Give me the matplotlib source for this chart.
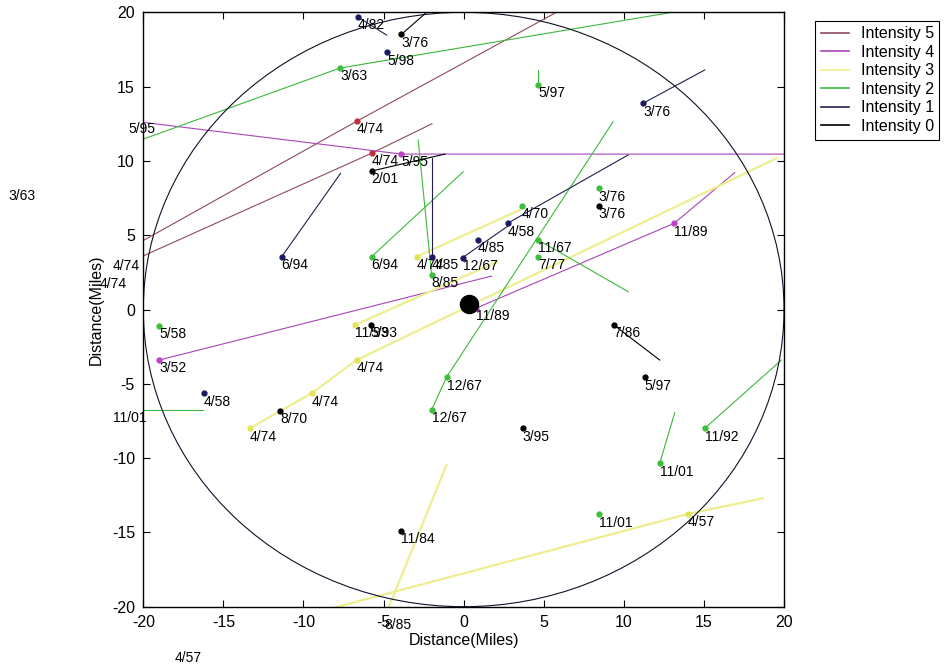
import matplotlib
matplotlib.use('Agg')
import matplotlib.pyplot as plt
from matplotlib.lines import Line2D
from matplotlib.patches import Circle

plt.rcParams['font.family'] = ['Liberation Sans', 'DejaVu Sans']
plt.rcParams['axes.unicode_minus'] = False

# tornado tracks near the city: date, intensity and the track points (miles)
dates = ['4/74', '4/74', '5/95', '3/52', '11/89',
         '4/57', '8/85', '4/74', '11/93', '4/74',
         '3/63', '5/97', '6/94', '8/85', '4/70', '12/67', '11/67', '7/77',
         '3/76', '5/58', '11/01', '11/01', '11/92', '11/01',
         '4/82', '5/98', '3/76', '6/94', '4/85', '12/67', '4/58', '4/85', '4/58',
         '3/76', '2/01', '5/93', '8/70', '7/86', '5/97', '3/95', '11/84', '3/76']
intensity = [5, 5, 4, 4, 4,
             3, 3, 3, 3, 3,
             2, 2, 2, 2, 2, 2, 2, 2,
             2, 2, 2, 2, 2, 2,
             1, 1, 1, 1, 1, 1, 1, 1, 1,
             0, 0, 0, 0, 0, 0, 0, 0, 0]
track_x = [[-21.9, -6.66, 8.0], [-22.7, -5.72, -1.98], [-20.95, -3.88, 21.0],
           [-19.0, 1.74], [0.80, 13.14, 16.92],
           [-18.02, 14.01, 18.69], [-4.92, -1.07], [-13.36, -9.49, -6.68, 19.53],
           [-6.79, 2.07], [-2.94, 3.5],
           [-28.44, -7.72, 15.0], [4.65, 4.65], [-5.75, -0.03], [-2.0, -2.84],
           [3.65], [-2.0, -1.07, 9.33], [4.65, 10.27], [4.65],
           [8.44], [-19.0], [-21.89, -16.26], [12.24, 13.18], [15.05, 19.84], [8.46],
           [-6.62, -4.81], [-4.77], [11.2, 15.05], [-11.36, -7.68], [-1.97, -1.97],
           [-0.07, 2.74], [2.74, 10.27], [0.87], [-16.21],
           [-3.88, -2.1], [-5.75, -1.17], [-5.79], [-11.47], [9.37, 12.24],
           [11.31], [3.68], [-3.88], [8.44]]
track_y = [[3.5, 12.68, 21.3], [2.3, 10.53, 12.5], [12.72, 10.46, 10.46],
           [-3.4, 2.25], [0.10, 5.8, 9.21],
           [-22.9, -13.76, -12.7], [-20.69, -10.46], [-8.0, -5.64, -3.4, 10.18],
           [-1.04, 3.2], [3.55, 6.7],
           [8.18, 16.25, 20.36], [15.11, 16.12], [3.55, 9.27], [2.32, 11.41],
           [6.97], [-6.76, -4.56, 12.64], [4.68, 1.2], [3.55],
           [8.16], [-1.09], [-6.76, -6.76], [-10.35, -6.94], [-8.0, -3.4], [-13.78],
           [19.70, 18.47], [17.31], [13.88, 16.12], [3.55, 9.17], [3.55, 10.18],
           [3.49, 5.6], [5.8, 10.4], [4.68], [-5.64],
           [18.52, 20.2], [9.32, 10.46], [-1.04], [-6.83], [-1.04, -3.4],
           [-4.56], [-8.0], [-14.9], [6.97]]

city_x, city_y = 0.35, 0.4
radius = 20

levels = [5, 4, 3, 2, 1, 0]
line_colors = {5: '#8C4B5A', 4: '#A844B8', 3: '#EEEE90', 2: '#3DB83D', 1: '#202050', 0: '#000000'}
dot_colors = {5: '#C0303A', 4: '#C040C8', 3: '#E2E25A', 2: '#3CC03C', 1: '#1A1A60', 0: '#000000'}

fig = plt.figure(figsize=(9.47, 6.70), dpi=100)
ax = fig.add_axes([0.1513, 0.0945, 0.6766, 0.8871])

for d, lev, tx, ty in zip(dates, intensity, track_x, track_y):
    lw = 1.6 if lev == 3 else 0.8
    if len(tx) > 1:
        ax.plot(tx, ty, color=line_colors[lev], lw=lw, zorder=2)
        px, py = tx[:-1], ty[:-1]
    else:
        px, py = tx, ty
    ax.plot(px, py, 'o', color=dot_colors[lev], ms=3.5, zorder=3)
    for x, y in zip(px, py):
        ax.annotate(d, (x, y), xytext=(0, -1), textcoords='offset points',
                    ha='left', va='top', fontsize=10, annotation_clip=False)

ax.add_patch(Circle((0, 0), radius, fill=False, color='#101028', lw=0.8, zorder=2))
ax.plot([city_x], [city_y], 'o', color='black', ms=13, zorder=4)

ax.set_xlim(-20, 20)
ax.set_ylim(-20, 20)
ax.set_xticks(range(-20, 21, 5))
ax.set_yticks(range(-20, 21, 5))
ax.tick_params(direction='in', top=True, right=True, length=5, width=0.8,
               labelsize=11.5, pad=6)
for s in ax.spines.values():
    s.set_linewidth(1.0)
ax.set_xlabel('Distance(Miles)', fontsize=11.5, labelpad=2)
ax.set_ylabel('Distance(Miles)', fontsize=11.5, labelpad=6)

handles = [Line2D([], [], color=line_colors[l], lw=1.2) for l in levels]
leg = fig.legend(handles, ['Intensity %d' % l for l in levels],
                 loc='upper left', bbox_to_anchor=(0.8606, 0.969),
                 bbox_transform=fig.transFigure, borderaxespad=0,
                 fontsize=11.5, handlelength=1.8, handletextpad=0.7,
                 labelspacing=0.22, borderpad=0.35, fancybox=False,
                 framealpha=1, edgecolor='black')
leg.get_frame().set_linewidth(0.8)

fig.savefig('out.png', dpi=100)
